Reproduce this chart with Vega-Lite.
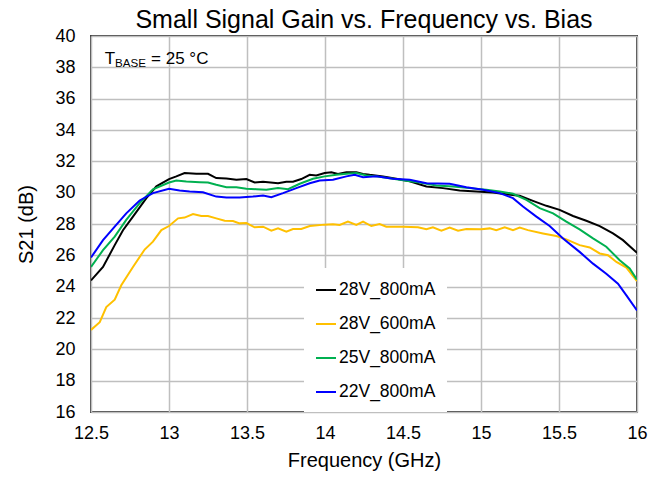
{
  "$schema": "https://vega.github.io/schema/vega-lite/v6.json",
  "width": 546,
  "height": 376,
  "autosize": {"type": "none"},
  "padding": {"left": 91, "top": 36, "right": 31, "bottom": 65},
  "background": "white",
  "title": {"text": "Small Signal Gain vs. Frequency vs. Bias", "fontSize": 25, "fontWeight": "normal", "font": "Liberation Sans", "color": "black", "anchor": "middle", "offset": -6},
  "config": {
    "font": "Liberation Sans",
    "view": {"stroke": "#404040", "strokeWidth": 2},
    "axis": {"grid": true, "gridColor": "#BFBFBF", "gridWidth": 1.5, "ticks": false, "tickSize": 0, "domain": false, "labelFontSize": 18, "labelColor": "black", "labelFont": "Liberation Sans", "titleFont": "Liberation Sans", "titleFontSize": 20, "titleFontWeight": "normal", "titleColor": "black", "labelOverlap": false}
  },
  "datasets": {
    "curves": [
      {"f": 12.5, "gain": 24.4, "bias": "28V_800mA"},
      {"f": 12.577, "gain": 25.26, "bias": "28V_800mA"},
      {"f": 12.652, "gain": 26.65, "bias": "28V_800mA"},
      {"f": 12.705, "gain": 27.6, "bias": "28V_800mA"},
      {"f": 12.769, "gain": 28.47, "bias": "28V_800mA"},
      {"f": 12.855, "gain": 29.65, "bias": "28V_800mA"},
      {"f": 12.919, "gain": 30.4, "bias": "28V_800mA"},
      {"f": 13.0, "gain": 30.87, "bias": "28V_800mA"},
      {"f": 13.047, "gain": 31.04, "bias": "28V_800mA"},
      {"f": 13.1, "gain": 31.25, "bias": "28V_800mA"},
      {"f": 13.175, "gain": 31.2, "bias": "28V_800mA"},
      {"f": 13.25, "gain": 31.2, "bias": "28V_800mA"},
      {"f": 13.303, "gain": 30.93, "bias": "28V_800mA"},
      {"f": 13.368, "gain": 30.9, "bias": "28V_800mA"},
      {"f": 13.432, "gain": 30.82, "bias": "28V_800mA"},
      {"f": 13.496, "gain": 30.87, "bias": "28V_800mA"},
      {"f": 13.549, "gain": 30.65, "bias": "28V_800mA"},
      {"f": 13.603, "gain": 30.7, "bias": "28V_800mA"},
      {"f": 13.699, "gain": 30.6, "bias": "28V_800mA"},
      {"f": 13.752, "gain": 30.7, "bias": "28V_800mA"},
      {"f": 13.795, "gain": 30.7, "bias": "28V_800mA"},
      {"f": 13.848, "gain": 30.87, "bias": "28V_800mA"},
      {"f": 13.902, "gain": 31.14, "bias": "28V_800mA"},
      {"f": 13.944, "gain": 31.1, "bias": "28V_800mA"},
      {"f": 13.998, "gain": 31.25, "bias": "28V_800mA"},
      {"f": 14.041, "gain": 31.3, "bias": "28V_800mA"},
      {"f": 14.083, "gain": 31.2, "bias": "28V_800mA"},
      {"f": 14.137, "gain": 31.3, "bias": "28V_800mA"},
      {"f": 14.201, "gain": 31.3, "bias": "28V_800mA"},
      {"f": 14.244, "gain": 31.2, "bias": "28V_800mA"},
      {"f": 14.286, "gain": 31.14, "bias": "28V_800mA"},
      {"f": 14.372, "gain": 31.04, "bias": "28V_800mA"},
      {"f": 14.457, "gain": 30.89, "bias": "28V_800mA"},
      {"f": 14.543, "gain": 30.72, "bias": "28V_800mA"},
      {"f": 14.65, "gain": 30.4, "bias": "28V_800mA"},
      {"f": 14.756, "gain": 30.29, "bias": "28V_800mA"},
      {"f": 14.863, "gain": 30.14, "bias": "28V_800mA"},
      {"f": 14.97, "gain": 30.08, "bias": "28V_800mA"},
      {"f": 15.077, "gain": 30.01, "bias": "28V_800mA"},
      {"f": 15.162, "gain": 29.9, "bias": "28V_800mA"},
      {"f": 15.248, "gain": 29.8, "bias": "28V_800mA"},
      {"f": 15.333, "gain": 29.48, "bias": "28V_800mA"},
      {"f": 15.419, "gain": 29.16, "bias": "28V_800mA"},
      {"f": 15.504, "gain": 28.9, "bias": "28V_800mA"},
      {"f": 15.59, "gain": 28.51, "bias": "28V_800mA"},
      {"f": 15.675, "gain": 28.21, "bias": "28V_800mA"},
      {"f": 15.761, "gain": 27.87, "bias": "28V_800mA"},
      {"f": 15.846, "gain": 27.4, "bias": "28V_800mA"},
      {"f": 15.91, "gain": 26.97, "bias": "28V_800mA"},
      {"f": 16.0, "gain": 26.16, "bias": "28V_800mA"},

      {"f": 12.5, "gain": 21.24, "bias": "28V_600mA"},
      {"f": 12.556, "gain": 21.73, "bias": "28V_600mA"},
      {"f": 12.598, "gain": 22.7, "bias": "28V_600mA"},
      {"f": 12.652, "gain": 23.17, "bias": "28V_600mA"},
      {"f": 12.694, "gain": 24.09, "bias": "28V_600mA"},
      {"f": 12.769, "gain": 25.26, "bias": "28V_600mA"},
      {"f": 12.844, "gain": 26.37, "bias": "28V_600mA"},
      {"f": 12.897, "gain": 26.87, "bias": "28V_600mA"},
      {"f": 12.951, "gain": 27.61, "bias": "28V_600mA"},
      {"f": 13.0, "gain": 27.87, "bias": "28V_600mA"},
      {"f": 13.058, "gain": 28.36, "bias": "28V_600mA"},
      {"f": 13.1, "gain": 28.41, "bias": "28V_600mA"},
      {"f": 13.154, "gain": 28.64, "bias": "28V_600mA"},
      {"f": 13.207, "gain": 28.51, "bias": "28V_600mA"},
      {"f": 13.25, "gain": 28.51, "bias": "28V_600mA"},
      {"f": 13.303, "gain": 28.36, "bias": "28V_600mA"},
      {"f": 13.357, "gain": 28.21, "bias": "28V_600mA"},
      {"f": 13.41, "gain": 28.19, "bias": "28V_600mA"},
      {"f": 13.453, "gain": 28.04, "bias": "28V_600mA"},
      {"f": 13.496, "gain": 28.06, "bias": "28V_600mA"},
      {"f": 13.549, "gain": 27.79, "bias": "28V_600mA"},
      {"f": 13.603, "gain": 27.83, "bias": "28V_600mA"},
      {"f": 13.656, "gain": 27.57, "bias": "28V_600mA"},
      {"f": 13.699, "gain": 27.72, "bias": "28V_600mA"},
      {"f": 13.752, "gain": 27.51, "bias": "28V_600mA"},
      {"f": 13.795, "gain": 27.68, "bias": "28V_600mA"},
      {"f": 13.848, "gain": 27.68, "bias": "28V_600mA"},
      {"f": 13.902, "gain": 27.87, "bias": "28V_600mA"},
      {"f": 13.998, "gain": 27.96, "bias": "28V_600mA"},
      {"f": 14.051, "gain": 27.98, "bias": "28V_600mA"},
      {"f": 14.094, "gain": 27.94, "bias": "28V_600mA"},
      {"f": 14.147, "gain": 28.15, "bias": "28V_600mA"},
      {"f": 14.201, "gain": 27.94, "bias": "28V_600mA"},
      {"f": 14.244, "gain": 28.15, "bias": "28V_600mA"},
      {"f": 14.297, "gain": 27.87, "bias": "28V_600mA"},
      {"f": 14.35, "gain": 28.0, "bias": "28V_600mA"},
      {"f": 14.393, "gain": 27.83, "bias": "28V_600mA"},
      {"f": 14.5, "gain": 27.83, "bias": "28V_600mA"},
      {"f": 14.596, "gain": 27.79, "bias": "28V_600mA"},
      {"f": 14.65, "gain": 27.66, "bias": "28V_600mA"},
      {"f": 14.692, "gain": 27.79, "bias": "28V_600mA"},
      {"f": 14.746, "gain": 27.57, "bias": "28V_600mA"},
      {"f": 14.799, "gain": 27.77, "bias": "28V_600mA"},
      {"f": 14.853, "gain": 27.57, "bias": "28V_600mA"},
      {"f": 14.906, "gain": 27.68, "bias": "28V_600mA"},
      {"f": 15.002, "gain": 27.66, "bias": "28V_600mA"},
      {"f": 15.056, "gain": 27.72, "bias": "28V_600mA"},
      {"f": 15.098, "gain": 27.61, "bias": "28V_600mA"},
      {"f": 15.152, "gain": 27.79, "bias": "28V_600mA"},
      {"f": 15.205, "gain": 27.61, "bias": "28V_600mA"},
      {"f": 15.248, "gain": 27.77, "bias": "28V_600mA"},
      {"f": 15.301, "gain": 27.61, "bias": "28V_600mA"},
      {"f": 15.397, "gain": 27.4, "bias": "28V_600mA"},
      {"f": 15.483, "gain": 27.23, "bias": "28V_600mA"},
      {"f": 15.547, "gain": 27.02, "bias": "28V_600mA"},
      {"f": 15.632, "gain": 26.65, "bias": "28V_600mA"},
      {"f": 15.697, "gain": 26.5, "bias": "28V_600mA"},
      {"f": 15.761, "gain": 26.12, "bias": "28V_600mA"},
      {"f": 15.814, "gain": 26.01, "bias": "28V_600mA"},
      {"f": 15.868, "gain": 25.58, "bias": "28V_600mA"},
      {"f": 15.932, "gain": 25.22, "bias": "28V_600mA"},
      {"f": 16.0, "gain": 24.36, "bias": "28V_600mA"},

      {"f": 12.5, "gain": 25.26, "bias": "25V_800mA"},
      {"f": 12.577, "gain": 26.33, "bias": "25V_800mA"},
      {"f": 12.652, "gain": 27.19, "bias": "25V_800mA"},
      {"f": 12.726, "gain": 28.26, "bias": "25V_800mA"},
      {"f": 12.812, "gain": 29.33, "bias": "25V_800mA"},
      {"f": 12.897, "gain": 30.22, "bias": "25V_800mA"},
      {"f": 13.0, "gain": 30.65, "bias": "25V_800mA"},
      {"f": 13.047, "gain": 30.78, "bias": "25V_800mA"},
      {"f": 13.111, "gain": 30.72, "bias": "25V_800mA"},
      {"f": 13.197, "gain": 30.67, "bias": "25V_800mA"},
      {"f": 13.25, "gain": 30.65, "bias": "25V_800mA"},
      {"f": 13.303, "gain": 30.5, "bias": "25V_800mA"},
      {"f": 13.368, "gain": 30.35, "bias": "25V_800mA"},
      {"f": 13.432, "gain": 30.35, "bias": "25V_800mA"},
      {"f": 13.496, "gain": 30.25, "bias": "25V_800mA"},
      {"f": 13.56, "gain": 30.22, "bias": "25V_800mA"},
      {"f": 13.624, "gain": 30.18, "bias": "25V_800mA"},
      {"f": 13.699, "gain": 30.29, "bias": "25V_800mA"},
      {"f": 13.763, "gain": 30.22, "bias": "25V_800mA"},
      {"f": 13.838, "gain": 30.57, "bias": "25V_800mA"},
      {"f": 13.923, "gain": 30.89, "bias": "25V_800mA"},
      {"f": 13.998, "gain": 31.04, "bias": "25V_800mA"},
      {"f": 14.073, "gain": 31.14, "bias": "25V_800mA"},
      {"f": 14.137, "gain": 31.2, "bias": "25V_800mA"},
      {"f": 14.201, "gain": 31.25, "bias": "25V_800mA"},
      {"f": 14.265, "gain": 31.1, "bias": "25V_800mA"},
      {"f": 14.329, "gain": 31.04, "bias": "25V_800mA"},
      {"f": 14.436, "gain": 30.89, "bias": "25V_800mA"},
      {"f": 14.521, "gain": 30.76, "bias": "25V_800mA"},
      {"f": 14.607, "gain": 30.65, "bias": "25V_800mA"},
      {"f": 14.714, "gain": 30.46, "bias": "25V_800mA"},
      {"f": 14.821, "gain": 30.4, "bias": "25V_800mA"},
      {"f": 14.927, "gain": 30.29, "bias": "25V_800mA"},
      {"f": 15.034, "gain": 30.18, "bias": "25V_800mA"},
      {"f": 15.12, "gain": 30.08, "bias": "25V_800mA"},
      {"f": 15.205, "gain": 29.93, "bias": "25V_800mA"},
      {"f": 15.291, "gain": 29.54, "bias": "25V_800mA"},
      {"f": 15.376, "gain": 29.01, "bias": "25V_800mA"},
      {"f": 15.462, "gain": 28.68, "bias": "25V_800mA"},
      {"f": 15.547, "gain": 28.15, "bias": "25V_800mA"},
      {"f": 15.632, "gain": 27.66, "bias": "25V_800mA"},
      {"f": 15.718, "gain": 27.08, "bias": "25V_800mA"},
      {"f": 15.803, "gain": 26.55, "bias": "25V_800mA"},
      {"f": 15.889, "gain": 25.69, "bias": "25V_800mA"},
      {"f": 15.953, "gain": 25.16, "bias": "25V_800mA"},
      {"f": 16.0, "gain": 24.45, "bias": "25V_800mA"},

      {"f": 12.5, "gain": 25.86, "bias": "22V_800mA"},
      {"f": 12.577, "gain": 26.97, "bias": "22V_800mA"},
      {"f": 12.652, "gain": 27.83, "bias": "22V_800mA"},
      {"f": 12.726, "gain": 28.68, "bias": "22V_800mA"},
      {"f": 12.812, "gain": 29.5, "bias": "22V_800mA"},
      {"f": 12.897, "gain": 29.97, "bias": "22V_800mA"},
      {"f": 13.0, "gain": 30.25, "bias": "22V_800mA"},
      {"f": 13.068, "gain": 30.14, "bias": "22V_800mA"},
      {"f": 13.132, "gain": 30.08, "bias": "22V_800mA"},
      {"f": 13.218, "gain": 30.03, "bias": "22V_800mA"},
      {"f": 13.303, "gain": 29.75, "bias": "22V_800mA"},
      {"f": 13.368, "gain": 29.69, "bias": "22V_800mA"},
      {"f": 13.453, "gain": 29.69, "bias": "22V_800mA"},
      {"f": 13.538, "gain": 29.75, "bias": "22V_800mA"},
      {"f": 13.603, "gain": 29.82, "bias": "22V_800mA"},
      {"f": 13.656, "gain": 29.71, "bias": "22V_800mA"},
      {"f": 13.731, "gain": 29.97, "bias": "22V_800mA"},
      {"f": 13.816, "gain": 30.29, "bias": "22V_800mA"},
      {"f": 13.902, "gain": 30.6, "bias": "22V_800mA"},
      {"f": 13.966, "gain": 30.78, "bias": "22V_800mA"},
      {"f": 14.051, "gain": 30.82, "bias": "22V_800mA"},
      {"f": 14.137, "gain": 31.04, "bias": "22V_800mA"},
      {"f": 14.19, "gain": 31.14, "bias": "22V_800mA"},
      {"f": 14.244, "gain": 30.99, "bias": "22V_800mA"},
      {"f": 14.329, "gain": 31.04, "bias": "22V_800mA"},
      {"f": 14.436, "gain": 30.89, "bias": "22V_800mA"},
      {"f": 14.543, "gain": 30.82, "bias": "22V_800mA"},
      {"f": 14.65, "gain": 30.6, "bias": "22V_800mA"},
      {"f": 14.799, "gain": 30.57, "bias": "22V_800mA"},
      {"f": 14.906, "gain": 30.35, "bias": "22V_800mA"},
      {"f": 15.013, "gain": 30.18, "bias": "22V_800mA"},
      {"f": 15.12, "gain": 29.97, "bias": "22V_800mA"},
      {"f": 15.205, "gain": 29.65, "bias": "22V_800mA"},
      {"f": 15.269, "gain": 29.12, "bias": "22V_800mA"},
      {"f": 15.355, "gain": 28.47, "bias": "22V_800mA"},
      {"f": 15.44, "gain": 27.87, "bias": "22V_800mA"},
      {"f": 15.526, "gain": 27.08, "bias": "22V_800mA"},
      {"f": 15.632, "gain": 26.22, "bias": "22V_800mA"},
      {"f": 15.718, "gain": 25.47, "bias": "22V_800mA"},
      {"f": 15.803, "gain": 24.83, "bias": "22V_800mA"},
      {"f": 15.878, "gain": 24.19, "bias": "22V_800mA"},
      {"f": 15.932, "gain": 23.44, "bias": "22V_800mA"},
      {"f": 16.0, "gain": 22.48, "bias": "22V_800mA"}
    ],
    "note": [
      {"part": "T", "f": 12.588, "g": 38.21},
      {"part": "BASE", "f": 12.654, "g": 37.99},
      {"part": "= 25 °C", "f": 12.885, "g": 38.21}
    ]
  },
  "layer": [
    {
      "data": {"name": "curves"},
      "mark": {"type": "line", "strokeWidth": 2, "clip": true},
      "encoding": {
        "x": {"field": "f", "type": "quantitative", "title": "Frequency (GHz)",
              "scale": {"domain": [12.5, 16], "nice": false, "zero": false},
              "axis": {"values": [12.5, 13, 13.5, 14, 14.5, 15, 15.5, 16], "format": "~g", "labelPadding": 12, "titlePadding": 8, "labelFlush": false, "labelOverlap": false}},
        "y": {"field": "gain", "type": "quantitative", "title": "S21 (dB)",
              "scale": {"domain": [16, 40], "nice": false, "zero": false},
              "axis": {"values": [16, 18, 20, 22, 24, 26, 28, 30, 32, 34, 36, 38, 40], "format": "~g", "labelPadding": 16, "titlePadding": 18, "labelOverlap": false}},
        "color": {"field": "bias", "type": "nominal",
                  "scale": {"domain": ["28V_800mA", "28V_600mA", "25V_800mA", "22V_800mA"], "range": ["#000000", "#FFC000", "#00B050", "#0000FF"]},
                  "legend": {"orient": "none", "legendX": 213, "legendY": 232, "title": null, "fillColor": "white", "padding": 11, "symbolType": "stroke", "symbolSize": 400, "symbolStrokeWidth": 2, "labelFontSize": 17.5, "labelOffset": 2, "rowPadding": 14, "labelColor": "black", "labelFont": "Liberation Sans"}},
        "order": {"field": "f", "type": "quantitative"}
      }
    },
    {
      "mark": {"type": "rect", "color": "white"},
      "encoding": {
        "x": {"datum": 12.52, "type": "quantitative", "title": "Frequency (GHz)",
              "axis": {"values": [12.5, 13, 13.5, 14, 14.5, 15, 15.5, 16], "format": "~g", "labelPadding": 12, "titlePadding": 8, "labelFlush": false, "labelOverlap": false}},
        "x2": {"datum": 13.39},
        "y": {"datum": 37.9, "type": "quantitative", "title": "S21 (dB)",
              "axis": {"values": [16, 18, 20, 22, 24, 26, 28, 30, 32, 34, 36, 38, 40], "format": "~g", "labelPadding": 16, "titlePadding": 18, "labelOverlap": false}},
        "y2": {"datum": 39.17}
      }
    },
    {
      "data": {"name": "note"},
      "transform": [{"filter": "datum.part != 'BASE'"}],
      "mark": {"type": "text", "align": "left", "baseline": "alphabetic", "fontSize": 17, "color": "black", "font": "Liberation Sans"},
      "encoding": {
        "x": {"field": "f", "type": "quantitative", "title": "Frequency (GHz)",
              "axis": {"values": [12.5, 13, 13.5, 14, 14.5, 15, 15.5, 16], "format": "~g", "labelPadding": 12, "titlePadding": 8, "labelFlush": false, "labelOverlap": false}},
        "y": {"field": "g", "type": "quantitative", "title": "S21 (dB)",
              "axis": {"values": [16, 18, 20, 22, 24, 26, 28, 30, 32, 34, 36, 38, 40], "format": "~g", "labelPadding": 16, "titlePadding": 18, "labelOverlap": false}},
        "text": {"field": "part"}
      }
    },
    {
      "data": {"name": "note"},
      "transform": [{"filter": "datum.part == 'BASE'"}],
      "mark": {"type": "text", "align": "left", "baseline": "alphabetic", "fontSize": 11.6, "color": "black", "font": "Liberation Sans"},
      "encoding": {
        "x": {"field": "f", "type": "quantitative", "title": "Frequency (GHz)",
              "axis": {"values": [12.5, 13, 13.5, 14, 14.5, 15, 15.5, 16], "format": "~g", "labelPadding": 12, "titlePadding": 8, "labelFlush": false, "labelOverlap": false}},
        "y": {"field": "g", "type": "quantitative", "title": "S21 (dB)",
              "axis": {"values": [16, 18, 20, 22, 24, 26, 28, 30, 32, 34, 36, 38, 40], "format": "~g", "labelPadding": 16, "titlePadding": 18, "labelOverlap": false}},
        "text": {"field": "part"}
      }
    }
  ]
}
